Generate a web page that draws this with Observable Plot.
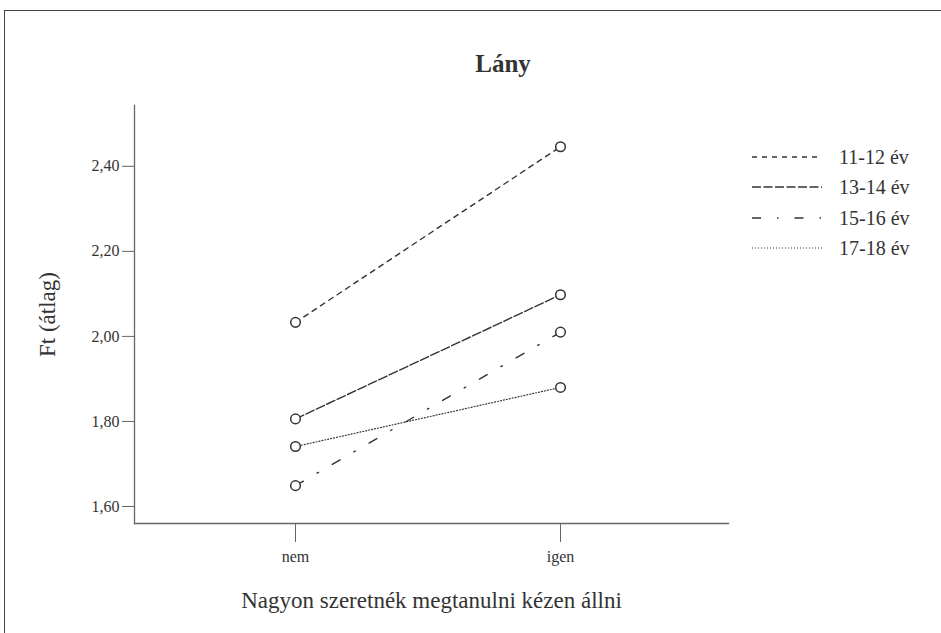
<!DOCTYPE html>
<html>
<head>
<meta charset="utf-8">
<script src="https://cdn.jsdelivr.net/npm/d3@7"></script>
<script src="https://cdn.jsdelivr.net/npm/@observablehq/plot@0.6"></script>
<style>
  body { margin: 0; background: white; }
  #wrap { position: relative; width: 941px; height: 633px; overflow: hidden; background: white; font-family: "Liberation Serif", "Times New Roman", serif; color: #333; }
  #border { position: absolute; left: 4px; top: 10px; width: 1000px; height: 700px; border-top: 1px solid #444; border-left: 1px solid #444; }
  #title { position: absolute; left: 403px; width: 200px; top: 51px; text-align: center; font-family: "Liberation Serif", serif; font-size: 25px; font-weight: bold; line-height: 1; color: #333; }
  #chart { position: absolute; left: 0; top: 0; }
  #legend { position: absolute; left: 752px; top: 142px; }
  .row { display: flex; align-items: center; height: 30.3px; }
  .row svg { width: 70px; height: 10px; margin-right: 17px; }
  .row span { font-family: "Liberation Serif", serif; font-size: 20px; line-height: 1; color: #333; }
  svg text { font-family: "Liberation Serif", serif; }
  g[aria-label="y-axis label"] text, g[aria-label="x-axis label"] text { font-family: "Liberation Serif", serif; font-size: 23px; fill: #333; }
</style>
</head>
<body>
<div id="wrap">
  <div id="border"></div>
  <div id="chart"></div>
  <div id="title">Lány</div>
  <div id="legend"></div>
</div>
<script>
const groups = ["11-12 év", "13-14 év", "15-16 év", "17-18 év"];
const categories = ["nem", "igen"];
const nemValues = [2.033, 1.806, 1.649, 1.741];
const igenValues = [2.446, 2.098, 2.010, 1.880];
const yTicks = [1.6, 1.8, 2.0, 2.2, 2.4];
const dashes = ["5,5", "9,2.5", "9,16,1.5,16", "1,2"];
const widths = [1.4, 1.4, 1.4, 1.2];

const data = groups.flatMap((g, i) => [
  {group: g, answer: categories[0], value: nemValues[i]},
  {group: g, answer: categories[1], value: igenValues[i]}
]);

const fmt = d => d.toFixed(2).replace(".", ",");

const lines = groups.map((g, i) => Plot.line(data.filter(d => d.group === g), {
  x: "answer", y: "value", stroke: "#333", strokeWidth: widths[i], strokeDasharray: dashes[i]
}));

const chart = Plot.plot({
  width: 941,
  height: 633,
  marginLeft: 134,
  marginRight: 213,
  marginTop: 105,
  marginBottom: 110,
  style: {fontFamily: "Liberation Serif, serif", fontSize: "16px", color: "#333", background: "transparent"},
  x: {type: "point", domain: categories, padding: 0.62, align: 0.49},
  y: {domain: [1.56, 2.543]},
  marks: [
    Plot.frame({anchor: "left", stroke: "#666", strokeWidth: 1.3}),
    Plot.frame({anchor: "bottom", stroke: "#666", strokeWidth: 1.3}),
    Plot.axisY({ticks: yTicks, tickFormat: fmt, tickSize: 12, tickPadding: 3, stroke: "#666", label: "Ft (átlag)", labelAnchor: "center", labelOffset: 96, labelArrow: "none"}),
    Plot.axisX({tickSize: 19, tickPadding: 8, stroke: "#666", label: "Nagyon szeretnék megtanulni kézen állni", labelAnchor: "center", labelOffset: 84, labelArrow: "none"}),
    ...lines,
    Plot.dot(data, {x: "answer", y: "value", r: 4.8, stroke: "#333", strokeWidth: 1.5, fill: "white"})
  ]
});
document.getElementById("chart").appendChild(chart);

const legend = document.getElementById("legend");
groups.forEach((g, i) => {
  const row = document.createElement("div");
  row.className = "row";
  row.innerHTML = `<svg viewBox="0 0 70 10"><line x1="0" y1="5" x2="70" y2="5" stroke="#333" stroke-width="${widths[i]}" stroke-dasharray="${dashes[i]}"/></svg><span>${g}</span>`;
  legend.appendChild(row);
});
</script>
</body>
</html>
